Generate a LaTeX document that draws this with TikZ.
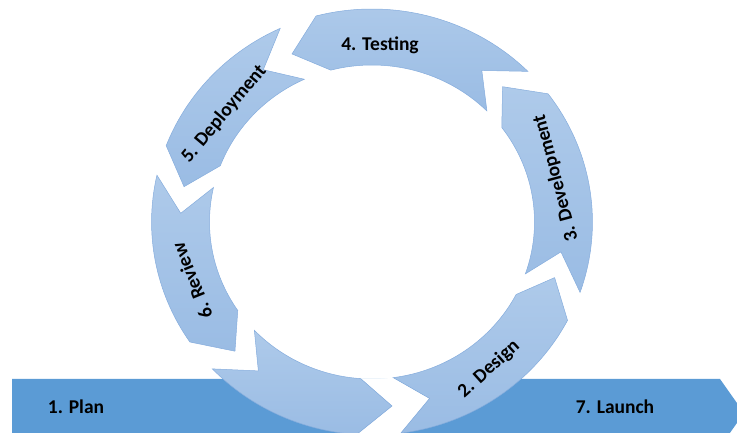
\documentclass[tikz,border=0pt]{standalone}
\usepackage{fontspec}
\setmainfont{Carlito}
\usepackage{xcolor}

\definecolor{planbar}{HTML}{5B9BD5}
\definecolor{ringtop}{HTML}{AECAEA}
\definecolor{ringbot}{HTML}{9ABCE4}
\definecolor{ringedge}{HTML}{86ADDD}

\tikzset{
	ringseg/.style={top color=ringtop, bottom color=ringbot, draw=ringedge, line width=0.5pt},
	steplabel/.style={font=\fontsize{19.5}{22}\selectfont\bfseries, text=black, inner sep=0pt}
}

\begin{document}
\begin{tikzpicture}[x=1pt, y=1pt]
				% the flat arrow runs under the ring
				\clip (0,0) rectangle (737,433);
				\fill[planbar] (12,54) -- (720,54) -- (744,20) -- (720,-14) -- (12,-14) -- cycle;
				
				% six arrow pieces of the ring, anticlockwise
				\begin{scope}[shift={(372,211)}, xscale=1.035]
					% white notch cut through the flat arrow
					\fill[white] (266:157) -- (276:185) -- (266:213) -- (266:240) -- (277.5:240)
						-- (277.5:213) -- (287.5:185) -- (277.5:157)
						arc[start angle=277.5, end angle=266, radius=157] -- cycle;
					\foreach \t/\h in {-82.5/-27.5, -19.3/37, 45/104.7, 114.6/159, 167.3/214.3, 223.6/266}{
						\path[ringseg] (\t:157) -- (\t+10:185) -- (\t:213)
							arc[start angle=\t, end angle=\h, radius=213]
							-- (\h+10:185) -- (\h:157)
							arc[start angle=\h, end angle=\t, radius=157] -- cycle;
					}
				\end{scope}
				
				\node[steplabel] (plan) at (76,26) {1. Plan};
				\node[steplabel] (launch) at (615,26) {7. Launch};
				\node[steplabel, rotate=42] (design) at (489,64) {2. Design};
				\node[steplabel, rotate=105] (devel) at (556,255) {3. Development};
				\node[steplabel] (testing) at (380,388) {4. Testing};
				\node[steplabel, rotate=50] (deploy) at (224,319) {5. Deployment};
				\node[steplabel, rotate=112] (review) at (192,152) {6. Review};
			\end{tikzpicture}
\end{document}
